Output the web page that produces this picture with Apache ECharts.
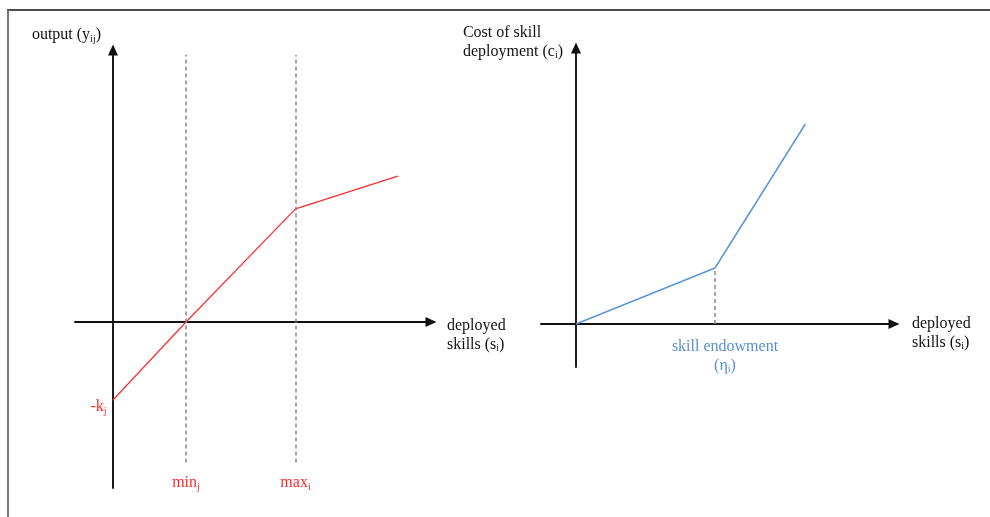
<!DOCTYPE html>
<html><head><meta charset="utf-8">
<script src="https://cdn.jsdelivr.net/npm/echarts@6/dist/echarts.min.js"></script>
<style>html,body{margin:0;padding:0;background:#fff}#c{width:990px;height:517px}</style>
</head><body><div id="c"></div>
<script>
// ---------- data ----------
const outputSkills = [0, 2, 5, 7.8];       // deployed skills s_i (left panel)
const outputValues = [-2, 0, 2.9, 3.74];   // output y_ij
const minJ = 2, maxJ = 5, kJ = 2;          // thresholds and fixed cost
const costSkills = [0, 3, 4.95];           // deployed skills s_i (right panel)
const costValues = [0, 1.4, 5.0];          // cost of skill deployment c_i
const skillEndowment = 3;                  // eta_i

// ---------- styles / layout ----------
const SERIF = '"Liberation Serif","DejaVu Serif",serif';
const RED = '#ff2b2b', BLUE = '#5b8fd6', INK = '#111', DASH = '#888';
function rich(color, align) {
  const base = {fontFamily: SERIF, color: color, verticalAlign: 'middle'};
  if (align) base.align = align;
  return {
    t: Object.assign({}, base, {fontSize: 16, lineHeight: 19}),
    s: Object.assign({}, base, {fontSize: 10, lineHeight: 10, padding: [8, 0, 0, 0]})
  };
}
function axis(o) {
  return Object.assign({
    type: 'value', axisTick: {show: false}, axisLabel: {show: false}, splitLine: {show: false},
    nameMoveOverlap: false,
    axisLine: {show: true, onZero: true, symbol: ['none', 'triangle'], symbolSize: [10, 11],
      lineStyle: {color: INK, width: 1.9}}
  }, o);
}
const dashLow = -3.6, dashHigh = 6.85;

const chart = echarts.init(document.getElementById('c'), null, {renderer: 'canvas'});
chart.setOption({
  animation: false,
  backgroundColor: '#fff',
  grid: [
    {left: 75, top: 50, width: 356, height: 438, outerBoundsMode: 'none', containLabel: false},
    {left: 541, top: 48, width: 353, height: 319, outerBoundsMode: 'none', containLabel: false}
  ],
  xAxis: [
    axis({gridIndex: 0, min: -1.041, max: 8.712,
      name: '{t|deployed}\n{t|skills (s}{s|i}{t|)}', nameLocation: 'end', nameGap: 16,
      nameTextStyle: {align: 'left', verticalAlign: 'middle', padding: [26, 0, 0, 0], rich: rich(INK)}}),
    axis({gridIndex: 1, min: -0.755, max: 6.863,
      name: '{t|deployed}\n{t|skills (s}{s|i}{t|)}', nameLocation: 'end', nameGap: 18,
      nameTextStyle: {align: 'left', verticalAlign: 'middle', padding: [18, 0, 0, 0], rich: rich(INK)}})
  ],
  yAxis: [
    axis({gridIndex: 0, min: -4.256, max: 6.974,
      name: '{t|output (y}{s|ij}{t|)}', nameLocation: 'end', nameGap: 5.5,
      nameTextStyle: {align: 'right', verticalAlign: 'bottom', padding: [0, 12, 0, 0], rich: rich(INK)}}),
    axis({gridIndex: 1, min: -1.075, max: 6.9,
      name: '{t|Cost of skill}\n{t|deployment (c}{s|i}{t|)}', nameLocation: 'end', nameGap: -13,
      nameTextStyle: {align: 'right', verticalAlign: 'bottom', padding: [0, 13, 0, 0], rich: rich(INK, 'left')}})
  ],
  series: [
    {
      type: 'line', xAxisIndex: 0, yAxisIndex: 0, silent: true,
      data: outputSkills.map(function (s, i) {
        const item = {value: [s, outputValues[i]]};
        if (i === 0) item.label = {show: true, position: 'left', distance: 6, offset: [0, 7],
          formatter: '{t|-k}{s|j}', rich: rich(RED)};
        return item;
      }),
      symbol: 'circle', symbolSize: 1, showSymbol: true,
      itemStyle: {color: RED}, lineStyle: {color: RED, width: 1.2},
      markLine: {
        silent: true, symbol: ['none', 'none'],
        lineStyle: {color: DASH, width: 1.5, type: [4, 3]},
        label: {show: true, position: 'start', distance: 11, rich: rich(RED)},
        data: [
          [{coord: [minJ, dashLow], label: {formatter: '{t|min}{s|j}'}}, {coord: [minJ, dashHigh]}],
          [{coord: [maxJ, dashLow], label: {formatter: '{t|max}{s|i}'}}, {coord: [maxJ, dashHigh]}]
        ]
      }
    },
    {
      type: 'line', xAxisIndex: 1, yAxisIndex: 1, silent: true,
      data: costSkills.map(function (s, i) { return [s, costValues[i]]; }),
      symbol: 'none', lineStyle: {color: '#5b95d9', width: 1.5},
      markLine: {
        silent: true, symbol: ['none', 'none'],
        lineStyle: {color: DASH, width: 1.5, type: [4, 3]},
        label: {show: true, position: 'start', distance: 13, padding: [0, 0, 0, 20],
          formatter: '{t|skill endowment}\n{t|(η}{s|i}{t|)}', rich: rich(BLUE)},
        data: [[{coord: [skillEndowment, 0]}, {coord: [skillEndowment, costValues[costSkills.indexOf(skillEndowment)]]}]]
      }
    }
  ],
  graphic: [
    {type: 'line', silent: true, shape: {x1: 7, y1: 10, x2: 990, y2: 10}, style: {stroke: '#111', lineWidth: 1.5}},
    {type: 'line', silent: true, shape: {x1: 8, y1: 10, x2: 8, y2: 517}, style: {stroke: '#777', lineWidth: 2}}
  ]
});
</script>
</body></html>
